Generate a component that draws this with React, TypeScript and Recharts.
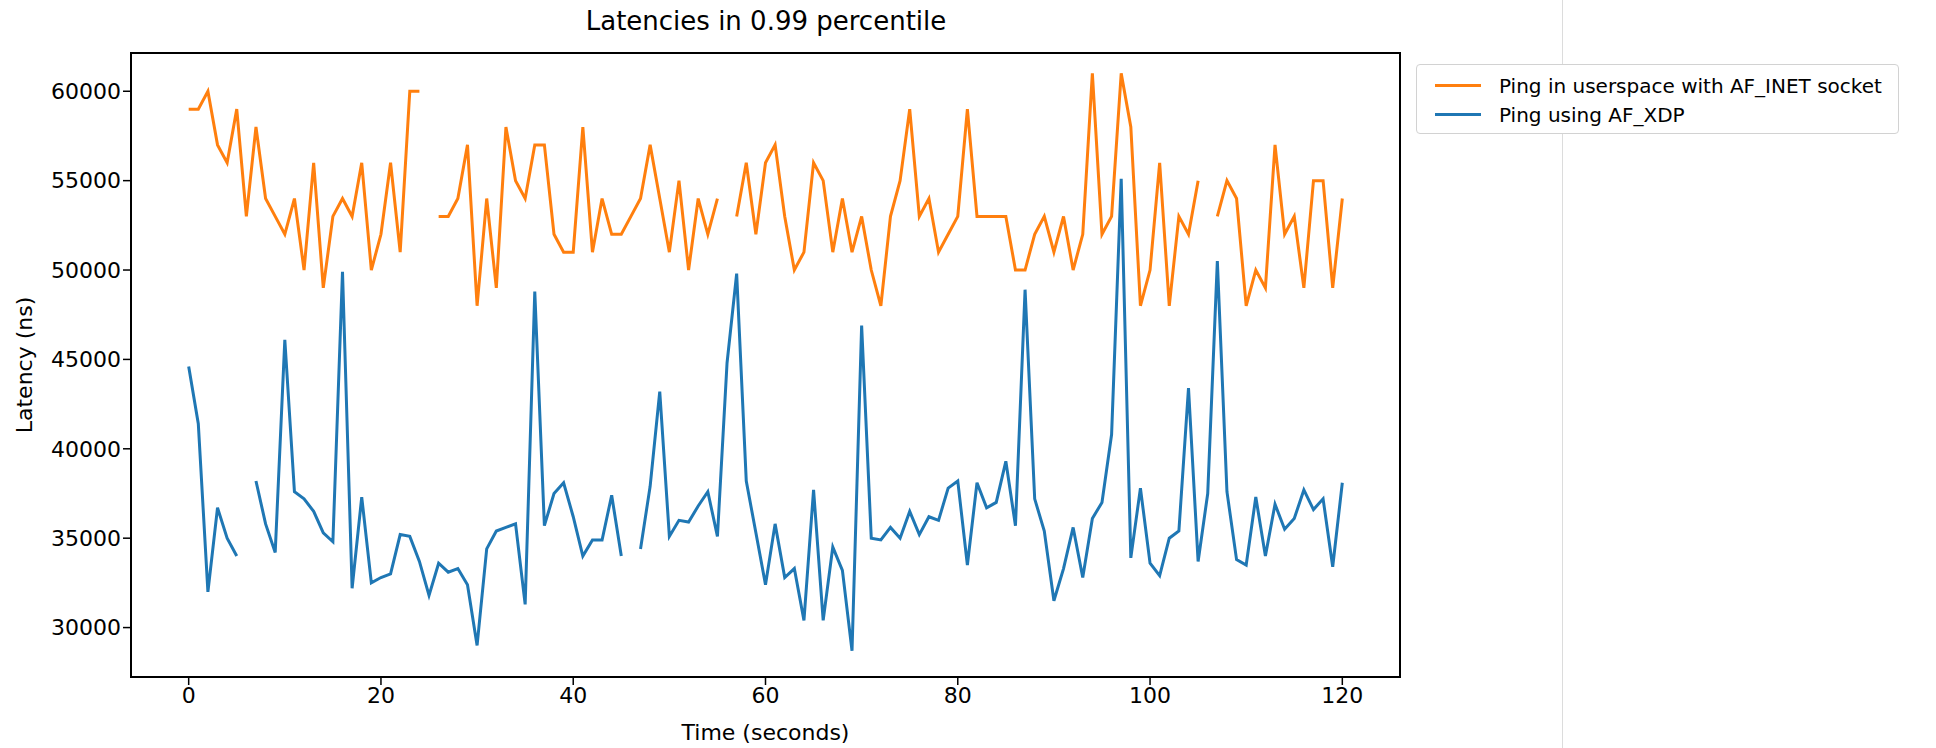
import React from "react";
import { LineChart, Line, XAxis, YAxis, Legend, ReferenceArea } from "recharts";

// time in seconds, one sample per second
const seconds = Array.from({ length: 121 }, (_, i) => i);

// 0.99 percentile latency (ns), AF_INET socket ping in userspace
const userspaceNs = [
  59000, 59000, 60000, 57000, 56000, 59000, 53000, 58000, 54000, 53000,
  52000, 54000, 50000, 56000, 49000, 53000, 54000, 53000, 56000, 50000,
  52000, 56000, 51000, 60000, 60000, null, 53000, 53000, 54000, 57000,
  48000, 54000, 49000, 58000, 55000, 54000, 57000, 57000, 52000, 51000,
  51000, 58000, 51000, 54000, 52000, 52000, 53000, 54000, 57000, 54000,
  51000, 55000, 50000, 54000, 52000, 54000, null, 53000, 56000, 52000,
  56000, 57000, 53000, 50000, 51000, 56000, 55000, 51000, 54000, 51000,
  53000, 50000, 48000, 53000, 55000, 59000, 53000, 54000, 51000, 52000,
  53000, 59000, 53000, 53000, 53000, 53000, 50000, 50000, 52000, 53000,
  51000, 53000, 50000, 52000, 61000, 52000, 53000, 61000, 58000, 48000,
  50000, 56000, 48000, 53000, 52000, 55000, null, 53000, 55000, 54000,
  48000, 50000, 49000, 57000, 52000, 53000, 49000, 55000, 55000, 49000,
  54000,
];

// 0.99 percentile latency (ns), AF_XDP ping
const xdpNs = [
  44600, 41400, 32000, 36700, 35000, 34000, null, 38200, 35800, 34200,
  46100, 37600, 37200, 36500, 35300, 34800, 49900, 32200, 37300, 32500,
  32800, 33000, 35200, 35100, 33700, 31800, 33600, 33100, 33300, 32400,
  29000, 34400, 35400, 35600, 35800, 31300, 48800, 35700, 37500, 38100,
  36200, 34000, 34900, 34900, 37400, 34000, null, 34400, 37900, 43200,
  35100, 36000, 35900, 36800, 37600, 35100, 44800, 49800, 38200, 35300,
  32400, 35800, 32800, 33300, 30400, 37700, 30400, 34500, 33200, 28700,
  46900, 35000, 34900, 35600, 35000, 36500, 35200, 36200, 36000, 37800,
  38200, 33500, 38100, 36700, 37000, 39300, 35700, 48900, 37200, 35400,
  31500, 33300, 35600, 32800, 36100, 37000, 40800, 55100, 33900, 37800,
  33600, 32900, 35000, 35400, 43400, 33700, 37500, 50500, 37600, 33800,
  33500, 37300, 34000, 36900, 35500, 36100, 37700, 36600, 37200, 33400,
  38100,
];

const xTicks = [0, 20, 40, 60, 80, 100, 120];
const yTicks = [30000, 35000, 40000, 45000, 50000, 55000, 60000];
const xDomain: [number, number] = [-6, 126];
const yDomain: [number, number] = [27235, 62140];

const data = seconds.map((t, i) => ({
  t,
  userspace: userspaceNs[i],
  xdp: xdpNs[i],
}));

const FONT = "'DejaVu Sans', sans-serif";

function LegendBox({ payload }: { payload?: Array<{ value: string; color: string }> }) {
  return (
    <div
      style={{
        width: 481,
        height: 62,
        border: "1px solid #d2d2d2",
        borderRadius: 4,
        background: "#fff",
        fontFamily: FONT,
        fontSize: 20,
        color: "#000",
        paddingTop: 6,
        boxSizing: "content-box",
      }}
    >
      {(payload || []).map((p) => (
        <div key={p.value} style={{ display: "flex", alignItems: "center", height: 29 }}>
          <div style={{ width: 46, height: 3, background: p.color, marginLeft: 18, marginRight: 18 }} />
          <span style={{ whiteSpace: "nowrap" }}>{p.value}</span>
        </div>
      ))}
    </div>
  );
}

export default function App() {
  const tickStyle = { fill: "#000", fontSize: 22, fontFamily: FONT };
  return (
    <div style={{ position: "absolute", left: 0, top: 0, width: 1936, height: 748, background: "#fff" }}>
      <div style={{ position: "absolute", left: 1562, top: 0, width: 1, height: 748, background: "#dcdcdc" }} />
      <div
        style={{
          position: "absolute",
          left: 132,
          top: 6,
          width: 1268,
          textAlign: "center",
          fontFamily: FONT,
          fontSize: 26,
          color: "#000",
        }}
      >
        Latencies in 0.99 percentile
      </div>
      <div style={{ position: "absolute", left: 0, top: 0 }}>
        <LineChart width={1936} height={748} data={data} margin={{ top: 53, right: 536, bottom: 0, left: 0 }}>
          <XAxis
            dataKey="t"
            type="number"
            domain={xDomain}
            ticks={xTicks}
            allowDataOverflow
            axisLine={false}
            tickLine={{ stroke: "#000", strokeWidth: 1.5 }}
            tickSize={8}
            tick={tickStyle}
            height={71}
            label={{ value: "Time (seconds)", position: "insideBottom", offset: 8, style: { ...tickStyle } }}
          />
          <YAxis
            type="number"
            domain={yDomain}
            ticks={yTicks}
            allowDataOverflow
            axisLine={false}
            tickLine={{ stroke: "#000", strokeWidth: 1.5 }}
            tickSize={8}
            tick={tickStyle}
            width={131}
            label={{
              value: "Latency (ns)",
              angle: -90,
              position: "insideLeft",
              offset: 24,
              style: { ...tickStyle, textAnchor: "middle" },
            }}
          />
          <ReferenceArea
            x1={xDomain[0]}
            x2={xDomain[1]}
            y1={yDomain[0]}
            y2={yDomain[1]}
            fill="none"
            stroke="#000"
            strokeWidth={2}
            ifOverflow="visible"
          />
          <Line
            type="linear"
            dataKey="userspace"
            name="Ping in userspace with AF_INET socket"
            stroke="#ff7f0e"
            strokeWidth={3}
            dot={false}
            activeDot={false}
            isAnimationActive={false}
          />
          <Line
            type="linear"
            dataKey="xdp"
            name="Ping using AF_XDP"
            stroke="#1f77b4"
            strokeWidth={3}
            dot={false}
            activeDot={false}
            isAnimationActive={false}
          />
          <Legend
            layout="vertical"
            align="center"
            verticalAlign="middle"
            wrapperStyle={{ left: 1416, top: 64, width: 483 }}
            content={(props: any) => <LegendBox payload={props.payload} />}
          />
        </LineChart>
      </div>
    </div>
  );
}
